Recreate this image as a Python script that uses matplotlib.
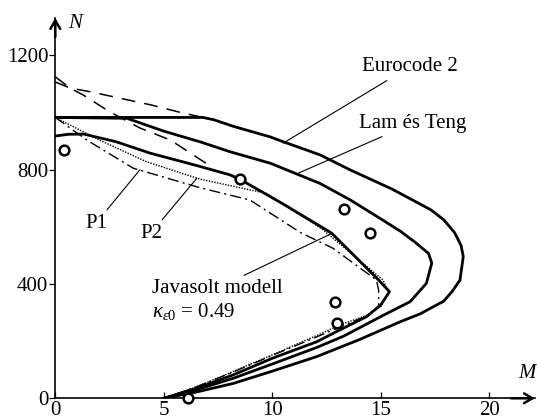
import numpy as np
import matplotlib
matplotlib.use('Agg')
import matplotlib.pyplot as plt

plt.rcParams['font.family'] = ['Liberation Serif', 'DejaVu Serif']
plt.rcParams['mathtext.fontset'] = 'custom'
plt.rcParams['mathtext.rm'] = 'Liberation Serif'
plt.rcParams['mathtext.it'] = 'Liberation Serif:italic'

# Eurocode 2
ec_m = [0, 6.8, 7.3, 8.2, 9.9, 10.5, 12.2, 13.6, 15.5, 17.3, 17.9, 18.4, 18.7, 18.8, 18.65, 18.3, 17.9, 16.8, 15.9, 14.0, 12.05, 10.0, 8.2, 6.5, 5.0]
ec_n = [983, 983, 975, 952, 915, 898, 852, 799, 733, 660, 625, 580, 535, 496, 414, 375, 340, 295, 268, 205, 146, 95, 52, 22, 0]

# Lam és Teng
lam_m = [0, 3.3, 5.0, 6.7, 8.05, 9.9, 12.2, 13.6, 15.0, 15.9, 16.6, 17.2, 17.35, 17.1, 16.35, 15.1, 13.3, 12.05, 10.0, 8.2, 6.5, 5.0]
lam_n = [983, 980, 935, 897, 863, 823, 752, 694, 628, 585, 545, 507, 473, 402, 338, 290, 218, 178, 120, 70, 30, 0]

# Javasolt modell
jav_m = [0, 0.6, 1.3, 2.8, 4.37, 6.5, 8.05, 8.5, 10.5, 12.5, 12.75, 14.9, 15.4, 15.0, 14.35, 13.0, 12.05, 10.0, 8.2, 6.5, 5.0]
jav_n = [918, 924, 925, 898, 858, 815, 782, 767, 680, 589, 577, 414, 373, 327, 286, 235, 198, 140, 82, 35, 0]

# P1 (pont-vonal)
p1_m = [0, 1.45, 3.6, 6.67, 8.97, 11.3, 12.8, 14.8, 14.9, 14.9, 14.35, 13.3, 12.05, 10.0, 8.2, 6.5, 5.0]
p1_n = [983, 904, 805, 737, 694, 580, 525, 414, 379, 321, 288, 255, 215, 150, 92, 40, 0]

# P2 (pontozott)
p2_m = [0, 2.0, 4.2, 6.67, 9.74, 12.3, 15.1, 15.35, 15.0, 14.35, 13.3, 12.05, 10.0, 8.2, 6.5, 5.0]
p2_n = [983, 905, 828, 767, 717, 592, 414, 373, 321, 290, 262, 220, 152, 94, 40, 0]

# szaggatott vonalak
da_m = [0, 0.68, 1.6, 3.0, 4.4, 5.8, 6.8]
da_n = [1107, 1086, 1073, 1050, 1027, 1000, 983]
db_m = [0, 0.68, 1.3, 2.5, 3.9, 5.3, 7.0]
db_n = [1125, 1086, 1061, 1003, 946, 904, 820]

# kísérleti pontok
pt_m = [0.41, 8.5, 13.3, 14.5, 12.9, 13.0, 6.13]
pt_n = [869, 767, 663, 577, 338, 265, 0]

xticks = [0, 5, 10, 15, 20]
yticks = [0, 400, 800, 1200]

fig = plt.figure(figsize=(5.37, 4.19), dpi=100)
ax = fig.add_axes([0.103, 0.0494, 0.893, 0.9076])

ax.plot(ec_m, ec_n, color='black', lw=2.0, solid_joinstyle='round')
ax.plot(lam_m, lam_n, color='black', lw=2.0, solid_joinstyle='round')
ax.plot(jav_m, jav_n, color='black', lw=2.0, solid_joinstyle='round')
ax.plot(p1_m, p1_n, color='black', lw=1.0, linestyle=(0, (8, 3, 1.5, 3)))
ax.plot(p2_m, p2_n, color='black', lw=1.0, linestyle=(0, (1, 1)))
ax.plot(da_m, da_n, color='black', lw=1.1, linestyle=(0, (9, 6)))
ax.plot(db_m, db_n, color='black', lw=1.1, linestyle=(0, (9, 6)))
ax.plot(pt_m, pt_n, 'o', mfc='white', mec='black', mew=1.8, ms=7, clip_on=False, zorder=5)

fs = 15
ax.annotate('Eurocode 2', xy=(10.5, 893), xytext=(14.12, 1160), fontsize=fs, va='center',
            arrowprops=dict(arrowstyle='-', lw=0.8, shrinkA=2, shrinkB=0))
ax.annotate('Lam és Teng', xy=(11.2, 788), xytext=(14.0, 963), fontsize=fs, va='center',
            arrowprops=dict(arrowstyle='-', lw=0.8, shrinkA=2, shrinkB=0))
ax.annotate('P1', xy=(3.9, 800), xytext=(1.37, 613), fontsize=fs, va='center',
            arrowprops=dict(arrowstyle='-', lw=0.8, shrinkA=1, shrinkB=0))
ax.annotate('P2', xy=(6.52, 770), xytext=(3.9, 578), fontsize=fs, va='center',
            arrowprops=dict(arrowstyle='-', lw=0.8, shrinkA=1, shrinkB=0))
ax.annotate('Javasolt modell', xy=(12.74, 577), xytext=(4.44, 385), fontsize=fs, va='center',
            arrowprops=dict(arrowstyle='-', lw=0.8, shrinkA=1, shrinkB=0))
ax.text(4.44, 303, r'$\kappa_{\varepsilon 0}$ = 0.49', fontsize=fs, va='center')

ax.set_xlim(0, 22.1)
ax.set_ylim(0, 1331)
ax.spines[['top', 'right']].set_visible(False)
ax.spines['left'].set_linewidth(1.2)
ax.spines['bottom'].set_linewidth(1.2)
ax.set_xticks(xticks)
ax.set_yticks(yticks)
ax.tick_params(axis='x', direction='in', length=4, width=0.9, labelsize=fs, pad=2)
ax.tick_params(axis='y', direction='out', length=4, width=0.9, labelsize=fs, pad=1)

# nyilak a tengelyek végén
ax.annotate('', xy=(1.0, 0), xytext=(0.95, 0), xycoords='axes fraction',
            arrowprops=dict(arrowstyle='->,head_length=0.6,head_width=0.35', lw=1.8, shrinkA=0, shrinkB=0))
ax.annotate('', xy=(0, 1.0), xytext=(0, 0.95), xycoords='axes fraction',
            arrowprops=dict(arrowstyle='->,head_length=0.6,head_width=0.35', lw=1.8, shrinkA=0, shrinkB=0))
ax.text(0.026, 0.985, 'N', transform=ax.transAxes, fontsize=fs, style='italic', va='center')
ax.text(0.983, 0.065, 'M', transform=ax.transAxes, fontsize=fs, style='italic', va='center', ha='center')

fig.savefig('out.png', dpi=100)
